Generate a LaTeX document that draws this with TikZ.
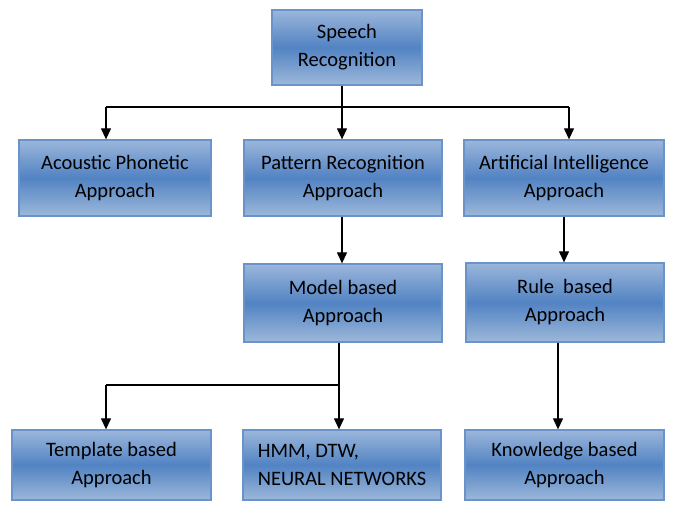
\documentclass[tikz,border=0pt]{standalone}
\usepackage{fontspec}
\setmainfont{Carlito}
\usetikzlibrary{arrows.meta}
\definecolor{boxtop}{HTML}{9BB6DB}
\definecolor{boxmid}{HTML}{5283C3}
\definecolor{boxbot}{HTML}{9DB8DA}
\definecolor{boxline}{HTML}{6A93C9}
\tikzset{
  bx/.style={draw=boxline, line width=1.3pt, top color=boxtop, bottom color=boxbot, middle color=boxmid,
    align=center, font=\fontsize{20.5}{28}\selectfont, text=black, inner sep=0pt},
  conn/.style={line width=1.2pt, black},
  arr/.style={conn, -{Triangle[width=10pt,length=11pt]}}
}
\begin{document}
\begin{tikzpicture}[x=1pt,y=-1pt]
\useasboundingbox (0,0) rectangle (675,530);
\node[bx, minimum width=150pt, minimum height=75pt] (sr) at (347,47.5) {Speech\\Recognition};
\node[bx, minimum width=192pt, minimum height=76pt] (ac) at (115,178) {Acoustic Phonetic\\Approach};
\node[bx, minimum width=198pt, minimum height=76pt] (pr) at (343,178) {Pattern Recognition\\Approach};
\node[bx, minimum width=200pt, minimum height=76pt] (ai) at (564,178) {Artificial Intelligence\\Approach};
\node[bx, minimum width=198pt, minimum height=78pt] (mb) at (343,303) {Model based\\Approach};
\node[bx, minimum width=198pt, minimum height=79pt] (rb) at (565,302.5) {Rule\ \ based\\Approach};
\node[bx, minimum width=199pt, minimum height=70pt] (tb) at (111.5,465) {Template based\\Approach};
\node[bx, minimum width=198pt, minimum height=70pt, align=left] (hm) at (342,465) {HMM, DTW,\\NEURAL NETWORKS};
\node[bx, minimum width=199pt, minimum height=70pt] (kb) at (564.5,465) {Knowledge based\\Approach};
% top level
\coordinate (j1) at (342,107);
\coordinate (l1) at (106,107);
\coordinate (r1) at (569,107);
\draw[conn] (sr.south -| j1) -- (j1);
\draw[conn] (l1) -- (r1);
\draw[arr] (l1) -- (l1 |- ac.north);
\draw[arr] (j1) -- (j1 |- pr.north);
\draw[arr] (r1) -- (r1 |- ai.north);
% second level
\coordinate (p2) at (342,0);
\draw[arr] (pr.south -| p2) -- (mb.north -| p2);
\coordinate (a2) at (564,0);
\draw[arr] (ai.south -| a2) -- (rb.north -| a2);
\coordinate (k2) at (558,0);
\draw[arr] (rb.south -| k2) -- (kb.north -| k2);
% model branch
\coordinate (j3) at (339,385);
\coordinate (l3) at (106,385);
\draw[conn] (mb.south -| j3) -- (j3) -- (l3);
\draw[arr] (l3) -- (l3 |- tb.north);
\draw[arr] (j3) -- (j3 |- hm.north);
\end{tikzpicture}
\end{document}
